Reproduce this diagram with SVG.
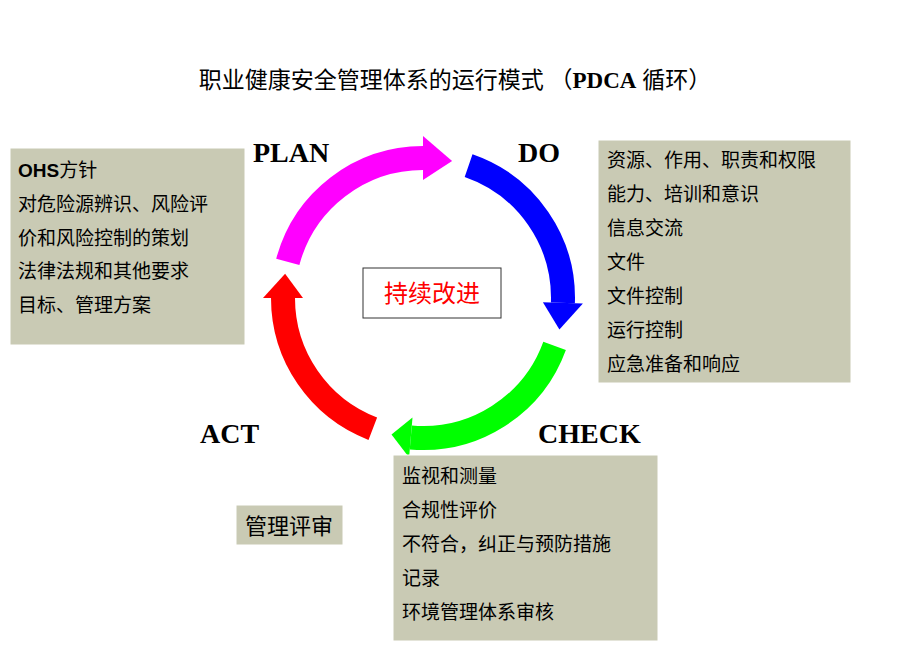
<svg xmlns="http://www.w3.org/2000/svg" width="920" height="651" viewBox="0 0 920 651">
<style>
.box{fill:#c9cab4;stroke:#fff;stroke-width:1}
.t{font-family:"Liberation Sans","Noto Sans CJK SC",sans-serif;font-size:19px;fill:#000}
.lab{font-family:"Liberation Serif","Noto Sans CJK SC",serif;font-weight:bold;font-size:28px;fill:#000}
.title{font-family:"Liberation Serif","Noto Sans CJK SC",serif;font-size:23px;fill:#000}
</style>
<rect width="920" height="651" fill="#fff"/>
<text class="title" x="455" y="88" text-anchor="middle">职业健康安全管理体系的运行模式 （<tspan font-weight="bold">PDCA</tspan> 循环）</text>
<g id="connectors">
<path d="M287.8,261.8 A140,140 0 0 1 423,158" fill="none" stroke="#ff00ff" stroke-width="24"/>
<polygon points="423,180 423,136 452.1,161.1" fill="#ff00ff"/>
<path d="M468.6,165.6 A140,140 0 0 1 562.9,302.9" fill="none" stroke="#0000ff" stroke-width="24"/>
<polygon points="542.9,302.2 582.9,303.6 559.4,329.5" fill="#0000ff"/>
<path d="M554.6,345.9 A140,140 0 0 1 410.8,437.5" fill="none" stroke="#00ff00" stroke-width="24"/>
<polygon points="412.5,417.5 409.1,457.4 391.5,434.4" fill="#00ff00"/>
<path d="M372.8,428.7 A140,140 0 0 1 283,298" fill="none" stroke="#ff0000" stroke-width="24"/>
<polygon points="303,298 263,298 285.1,273.7" fill="#ff0000"/>
</g>
<g id="center"><rect x="363" y="268" width="138" height="50" fill="#fff" stroke="#333" stroke-width="1"/>
<text x="432" y="302" text-anchor="middle" font-family="Noto Sans CJK SC,sans-serif" font-size="24" fill="#ff0000">持续改进</text></g>
<g id="labels">
<text class="lab" x="253" y="162">PLAN</text>
<text class="lab" x="518" y="162">DO</text>
<text class="lab" x="200" y="443">ACT</text>
<text class="lab" x="538" y="443">CHECK</text>
</g>
<g id="plan-box"><rect class="box" x="10" y="148" width="235" height="197"/>
<text class="t" x="18" y="177"><tspan font-weight="bold">OHS</tspan>方针</text>
<text class="t" x="18" y="211">对危险源辨识、风险评</text>
<text class="t" x="18" y="245">价和风险控制的策划</text>
<text class="t" x="18" y="278">法律法规和其他要求</text>
<text class="t" x="18" y="312">目标、管理方案</text></g>
<g id="do-box"><rect class="box" x="598" y="140" width="253" height="243"/>
<text class="t" x="607" y="167">资源、作用、职责和权限</text>
<text class="t" x="607" y="201">能力、培训和意识</text>
<text class="t" x="607" y="235">信息交流</text>
<text class="t" x="607" y="269">文件</text>
<text class="t" x="607" y="303">文件控制</text>
<text class="t" x="607" y="337">运行控制</text>
<text class="t" x="607" y="371">应急准备和响应</text></g>
<g id="check-box"><rect class="box" x="393" y="455" width="265" height="186"/>
<text class="t" x="402" y="483">监视和测量</text>
<text class="t" x="402" y="517">合规性评价</text>
<text class="t" x="402" y="551">不符合，纠正与预防措施</text>
<text class="t" x="402" y="585">记录</text>
<text class="t" x="402" y="619">环境管理体系审核</text></g>
<g id="act-box"><rect class="box" x="236" y="505" width="107" height="40"/>
<text x="289" y="534" text-anchor="middle" font-family="Noto Sans CJK SC,sans-serif" font-size="22" fill="#000">管理评审</text></g>
</svg>
